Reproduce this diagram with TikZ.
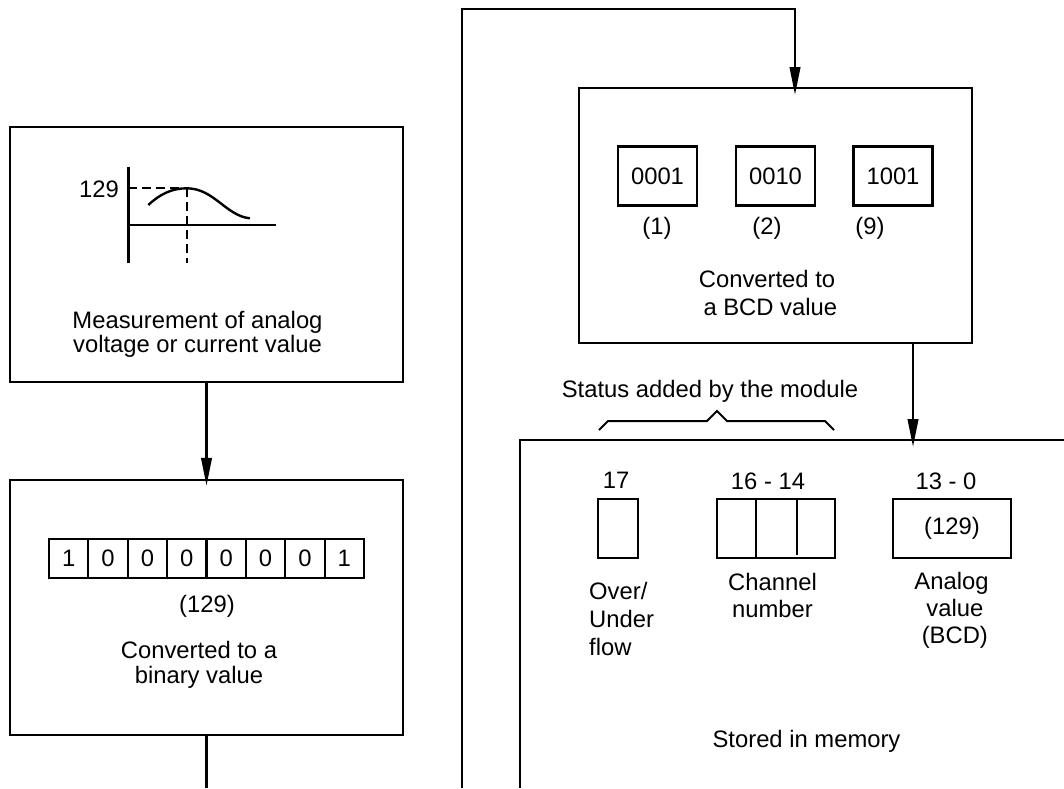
\documentclass[tikz,border=0pt]{standalone}
\usepackage{fontspec}
\setmainfont{Liberation Sans}
\usetikzlibrary{arrows.meta}
\begin{document}
\begin{tikzpicture}[x=1pt,y=-1pt,
  every node/.style={font={\fontsize{23.8}{25}\selectfont}, inner sep=0pt},
  frame/.style={draw, line width=2.4pt, minimum width=393pt, minimum height=255pt},
  cell/.style={draw, line width=2.2pt, minimum width=39.4pt, minimum height=39pt},
  bcd/.style={draw, line width=2.4pt, minimum width=79pt, minimum height=59pt},
  field/.style={draw, line width=2.4pt, minimum height=59pt},
  wire/.style={line width=2.4pt},
  arr/.style={line width=2.4pt, -{Triangle[length=28pt,width=10.5pt]}},
  lbl/.style={align=center},
  guide/.style={line width=2.2pt, dash pattern=on 9pt off 5pt}
]
\useasboundingbox (0,0) rectangle (1064,788);

% ---------- frames ----------
\node[frame] (m1) at (206.5,254.5) {};
\node[frame] (m2) at (206.5,607.5) {};
\node[frame] (m3) at (775.5,215.5) {};

% ---------- box 1: measurement ----------
\draw[wire] (128.3,166.7) -- (128.3,263.3);
\draw[wire] (128.3,225) -- (275.7,225);
\draw[guide] (128.3,188.3) -- (186.7,188.3);
\draw[guide] (186.7,188.3) -- (186.7,263.3);
\draw[wire] (148.3,205) .. controls (160,194) and (172,188.3) .. (186.7,188.3)
            .. controls (214,188.3) and (226,216) .. (250,218.3);
\node[anchor=east] (v129) at (119,189.5) {129};
\node[lbl, font={\fontsize{23.8}{24.5}\selectfont}] (t1) at (197.5,334.5) {Measurement of analog\\voltage or current value};

% ---------- box 2: binary ----------
\foreach \i/\d in {1/1,2/0,3/0,4/0,5/0,6/0,7/0,8/1}
  \node[cell] (b\i) at ({49+39.375*(\i-0.5)},558.5) {\d};
\node (t2a) at (207,606) {(129)};
\node[lbl] (t2) at (199,664.5) {Converted to a\\binary value};

% ---------- box 3: BCD ----------
\node[bcd] (d1) at (657.5,176) {0001};
\node[bcd] (d2) at (775.5,176) {0010};
\node[bcd] (d3) at (893,176) {\raisebox{-2pt}{1001}};
\node (p1) at (657,228.5) {(1)};
\node (p2) at (767,228.5) {(2)};
\node (p3) at (870,228.5) {(9)};
\node[lbl, font={\fontsize{23.8}{28}\selectfont}] (t3) at (767,292.6) {Converted to\\\ a BCD value};

% ---------- status brace ----------
\node (st) at (710,391) {Status added by the module};
\draw[line width=2pt] (599,430) -- (608,421) -- (707,421) -- (717,411) -- (727,421) -- (825,421) -- (834,430);

% ---------- box 4: memory ----------
\coordinate (f0) at (520,788);
\coordinate (f1) at (520,440);
\coordinate (f2) at (1064,440);
\draw[wire] (f0) -- (f1) -- (f2);

\node[field, minimum width=40pt] (r17) at (618,528.5) {};
\node[field, minimum width=118pt] (r16) at (776,528.5) {};
\draw[wire] (756,499) -- (756,558);
\draw[wire] (797,499) -- (797,555);
\node[field, minimum width=118pt] (r13) at (952,528.5) {(129)};
\node (h17) at (616,480.8) {17};
\node (h16) at (768,480.8) {16 - 14};
\node (h13) at (946,480.8) {13 - 0};
\node[align=left, anchor=west, font={\fontsize{23.8}{28}\selectfont}] (l17) at (589,618.6) {Over/\\Under\\flow};
\node[lbl, font={\fontsize{23.8}{27}\selectfont}] (l16) at (772.5,595.3) {Channel\\number};
\node[lbl, font={\fontsize{23.8}{27}\selectfont}] (l13) at (951.5,610) {Analog\\\ value\\\ (BCD)};
\node (t4) at (806.5,741.7) {Stored in memory};

% ---------- connectors ----------
\draw[arr] (m1.south) -- ([yshift=-7pt]m2.north);
\coordinate (e2) at (206.5,788);
\draw[wire] (m2.south) -- (e2);

\coordinate (l0) at (462,788);
\coordinate (l1) at (462,9);
\coordinate (in3) at (795,88);
\draw[arr] (l0) -- (l1) -| ([yshift=-7pt]in3);

\coordinate (out3) at (913,343);
\coordinate (in4) at (913,440);
\draw[arr] (out3) -- ([yshift=-7pt]in4);
\end{tikzpicture}
\end{document}
